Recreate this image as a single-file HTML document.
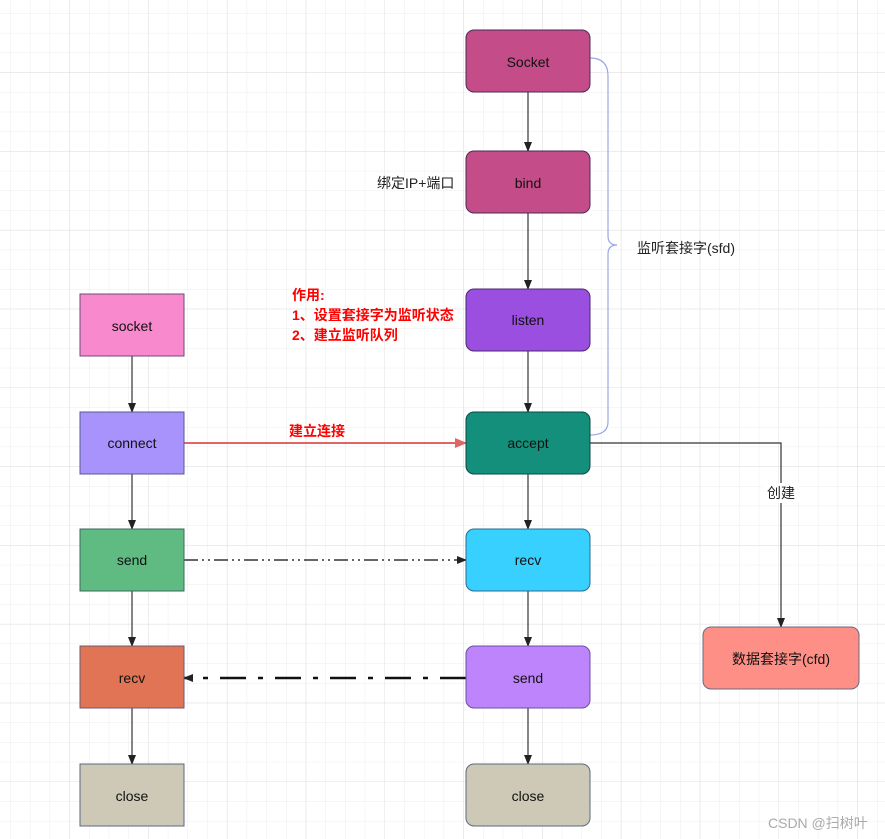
<!DOCTYPE html>
<html><head><meta charset="utf-8"><style>
html,body{margin:0;padding:0;background:#fff}
svg{display:block}
text{font-family:"Liberation Sans","Noto Sans CJK SC",sans-serif;font-size:14px}
</style></head><body>
<svg width="885" height="839" viewBox="0 0 885 839" xmlns="http://www.w3.org/2000/svg">
<defs>
<pattern id="g" x="-9" y="-6" width="19.7" height="19.7" patternUnits="userSpaceOnUse">
<path d="M19.7 0V19.7M0 19.7H19.7" stroke="#ececec" stroke-width="1" fill="none"/>
</pattern>
<pattern id="G" x="-9" y="-6" width="78.8" height="78.8" patternUnits="userSpaceOnUse">
<path d="M78.8 0V78.8M0 78.8H78.8" stroke="#e0e0e0" stroke-width="1" fill="none"/>
</pattern>
<marker id="a" markerWidth="10" markerHeight="10" refX="9" refY="5" orient="auto" markerUnits="userSpaceOnUse">
<path d="M0,1 L10,5 L0,9 Z" fill="#222"/></marker>
<marker id="r" markerWidth="12" markerHeight="12" refX="11" refY="6" orient="auto" markerUnits="userSpaceOnUse">
<path d="M0,1 L12,6 L0,11 Z" fill="#e06666"/></marker>
</defs>
<rect width="885" height="839" fill="#fff"/>
<rect width="885" height="839" fill="url(#g)"/>
<rect width="885" height="839" fill="url(#G)"/>

<!-- brace -->
<path d="M590,58 Q608,58 608,76 L608,236 Q608,245 617,245 Q608,245 608,254 L608,422 Q608,435 590,435" fill="none" stroke="#9aa6e6" stroke-width="1.2"/>
<text x="637" y="253" fill="#222">监听套接字(sfd)</text>

<!-- vertical connectors -->
<g stroke="#333" stroke-width="1.2" fill="none" marker-end="url(#a)">
<line x1="528" y1="92" x2="528" y2="151"/>
<line x1="528" y1="213" x2="528" y2="289"/>
<line x1="528" y1="351" x2="528" y2="412"/>
<line x1="528" y1="474" x2="528" y2="529"/>
<line x1="528" y1="591" x2="528" y2="646"/>
<line x1="528" y1="708" x2="528" y2="764"/>
<line x1="132" y1="356" x2="132" y2="412"/>
<line x1="132" y1="474" x2="132" y2="529"/>
<line x1="132" y1="591" x2="132" y2="646"/>
<line x1="132" y1="708" x2="132" y2="764"/>
<polyline points="590,443 781,443 781,627"/>
</g>
<rect x="763" y="483" width="36" height="20" fill="#fff"/>
<text x="781" y="498" text-anchor="middle" fill="#222">创建</text>

<line x1="184" y1="443" x2="466" y2="443" stroke="#e06666" stroke-width="2" marker-end="url(#r)"/>
<text x="289" y="436" fill="#ff0000" font-weight="bold">建立连接</text>

<line x1="184" y1="560" x2="466" y2="560" stroke="#333" stroke-width="1.5" stroke-dasharray="14,4,2,4,2,4" marker-end="url(#a)"/>
<line x1="466" y1="678" x2="184" y2="678" stroke="#111" stroke-width="2.5" stroke-dasharray="26,12,5,12" marker-end="url(#a)"/>

<text x="292" y="300" fill="#ff0000" font-weight="bold" font-size="13">作用:</text>
<text x="292" y="320" fill="#ff0000" font-weight="bold" font-size="13">1、设置套接字为监听状态</text>
<text x="292" y="340" fill="#ff0000" font-weight="bold" font-size="13">2、建立监听队列</text>
<text x="377" y="188" fill="#222">绑定IP+端口</text>

<!-- right column -->
<g stroke="#555" stroke-width="1">
<rect x="466" y="30" width="124" height="62" rx="8" fill="#c44d89" stroke="#4a2a55"/>
<rect x="466" y="151" width="124" height="62" rx="8" fill="#c44d89" stroke="#4a2a55"/>
<rect x="466" y="289" width="124" height="62" rx="8" fill="#9a4fe0" stroke="#4a2a70"/>
<rect x="466" y="412" width="124" height="62" rx="8" fill="#138f7c" stroke="#0b4a45"/>
<rect x="466" y="529" width="124" height="62" rx="8" fill="#38d0ff" stroke="#2a6a90"/>
<rect x="466" y="646" width="124" height="62" rx="8" fill="#be84fb" stroke="#6a50a0"/>
<rect x="466" y="764" width="124" height="62" rx="8" fill="#cdc9b6" stroke="#5a6a80"/>
<rect x="703" y="627" width="156" height="62" rx="8" fill="#fe8f86" stroke="#6a6a80"/>
<rect x="80" y="294" width="104" height="62" fill="#f889cd" stroke="#6a4a80"/>
<rect x="80" y="412" width="104" height="62" fill="#a793fb" stroke="#5a5a90"/>
<rect x="80" y="529" width="104" height="62" fill="#5fbb81" stroke="#3a6a60"/>
<rect x="80" y="646" width="104" height="62" fill="#e07455" stroke="#6a5a70"/>
<rect x="80" y="764" width="104" height="62" fill="#cdc9b6" stroke="#5a6a80"/>
</g>
<g fill="#111" text-anchor="middle">
<text x="528" y="67">Socket</text>
<text x="528" y="188">bind</text>
<text x="528" y="325">listen</text>
<text x="528" y="448">accept</text>
<text x="528" y="565">recv</text>
<text x="528" y="683">send</text>
<text x="528" y="801">close</text>
<text x="781" y="664">数据套接字(cfd)</text>
<text x="132" y="331">socket</text>
<text x="132" y="448">connect</text>
<text x="132" y="565">send</text>
<text x="132" y="683">recv</text>
<text x="132" y="801">close</text>
</g>
<text x="768" y="828" fill="#aaa" font-size="13">CSDN @扫树叶</text>
</svg>
</body></html>
